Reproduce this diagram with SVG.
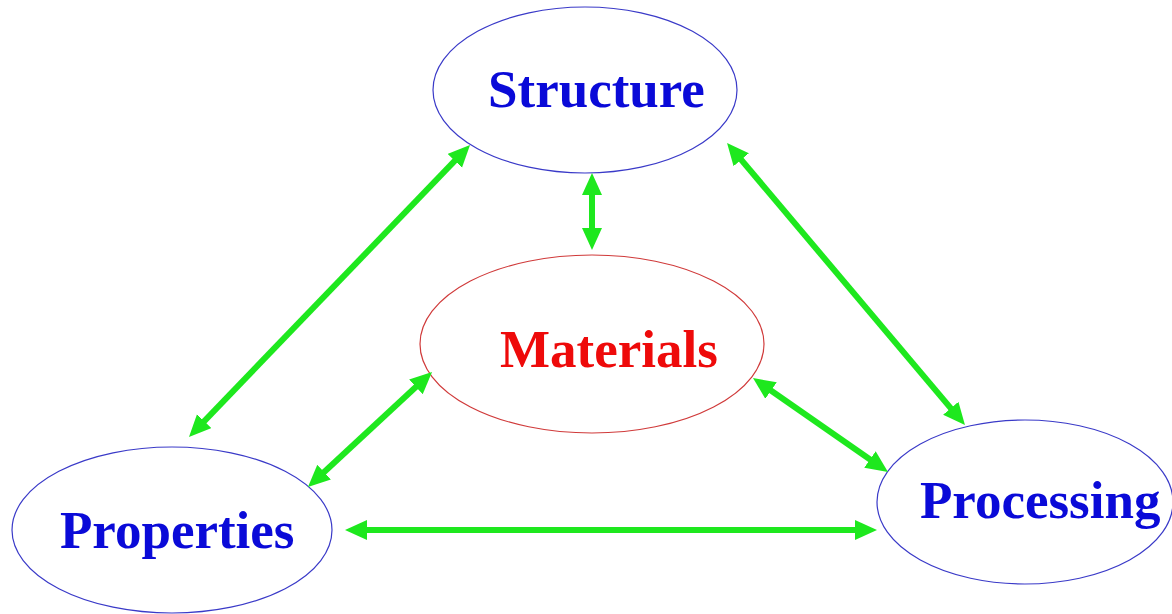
<svg xmlns="http://www.w3.org/2000/svg" width="1172" height="614" viewBox="0 0 1172 614">
<style>
.node ellipse{fill:#fff;stroke-width:1.2}
.blue ellipse{stroke:#3a3ac8}
.red ellipse{stroke:#d03a3a}
.node text{font-family:"Liberation Serif","Times New Roman",serif;font-weight:bold;font-size:53px}
.blue text{fill:#0a0ad8}
.red text{fill:#ee0a0a}
#connectors line{stroke:#1ee81e;stroke-width:6;marker-start:url(#ah);marker-end:url(#ah)}
</style>
<defs>
<marker id="ah" markerUnits="userSpaceOnUse" markerWidth="24" markerHeight="22" refX="12" refY="10" orient="auto-start-reverse" viewBox="0 0 24 22">
<path d="M0,0 L22,10 L0,20 z" fill="#1ee81e"/>
</marker>
</defs>
<rect width="1172" height="614" fill="#fff"/>
<g id="structure" class="node blue">
<ellipse cx="585" cy="90" rx="152" ry="83"/>
<text x="488" y="107">Structure</text>
</g>
<g id="materials" class="node red">
<ellipse cx="592" cy="344" rx="172" ry="89"/>
<text x="500" y="367">Materials</text>
</g>
<g id="properties" class="node blue">
<ellipse cx="172" cy="530" rx="160" ry="83"/>
<text x="60" y="548">Properties</text>
</g>
<g id="processing" class="node blue">
<ellipse cx="1025" cy="502" rx="148" ry="82"/>
<text x="920" y="518">Processing</text>
</g>
<g id="connectors">
<line x1="463.1" y1="152.2" x2="195.9" y2="429.8"/>
<line x1="592" y1="183" x2="592" y2="240"/>
<line x1="733.5" y1="150.6" x2="958.5" y2="417.4"/>
<line x1="424.7" y1="378.8" x2="315.3" y2="480.2"/>
<line x1="761.2" y1="383.7" x2="879.8" y2="466.3"/>
<line x1="355" y1="530" x2="867" y2="530"/>
</g>
</svg>
